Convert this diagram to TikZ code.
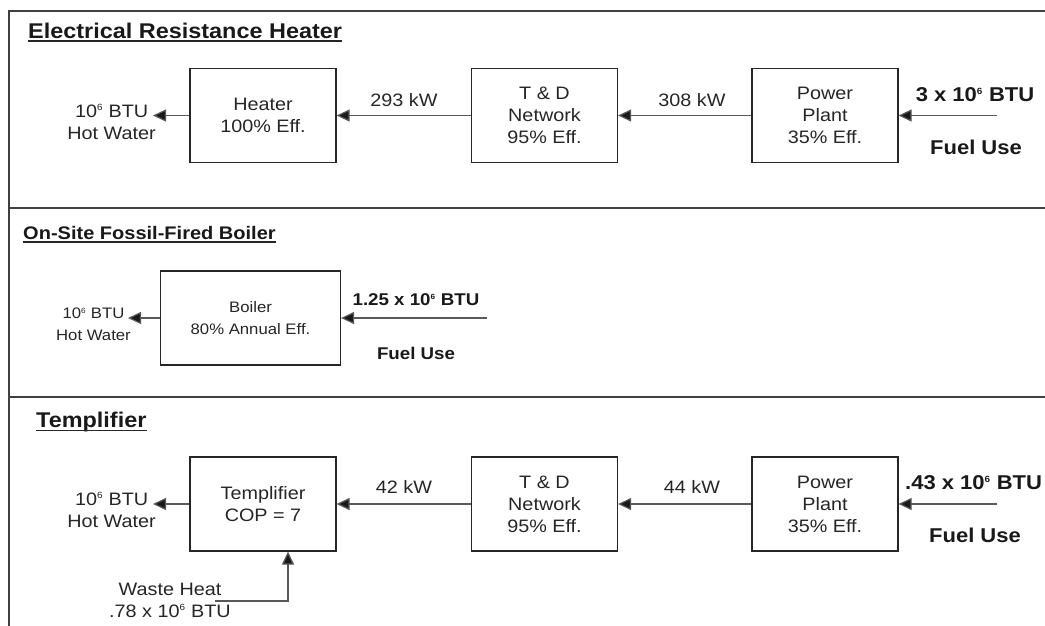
\documentclass[tikz,border=0pt]{standalone}
\usepackage{fontspec}
\setmainfont{Liberation Sans}[FakeStretch=1.1]
\usetikzlibrary{arrows.meta}
\newcommand\fsreg{\fontsize{18}{22}\selectfont}
\newcommand\fssmall{\fontsize{15.2}{21.7}\selectfont}
\newcommand\fsbold{\fontsize{20}{24}\selectfont\bfseries}
\newcommand\fsboldsmall{\fontsize{17}{21}\selectfont\bfseries}
\newcommand\fstitle{\fontsize{21.3}{25}\selectfont\bfseries}
\newcommand\fstitlesmall{\fontsize{18.2}{22}\selectfont\bfseries}
\newcommand\sixsup{\textsuperscript{\fontsize{9}{9}\selectfont 6}}
\newcommand\sixsupsm{\textsuperscript{\fontsize{7.5}{7.5}\selectfont 6}}
\begin{document}
\begin{tikzpicture}[x=1pt,y=-1pt,
  box/.style={draw=black!85, line width=1.2pt, minimum width=146pt, minimum height=94pt,
    inner sep=0pt, align=center, font=\fsreg, text=black!85},
  lbl/.style={font=\fsreg, text=black!85, inner sep=0pt, align=center},
  fuel/.style={font=\fsbold, text=black!90, inner sep=0pt, align=center},
  ttl/.style={text=black!90, inner sep=0pt, anchor=base west},
  uline/.style={draw=black!85, line width=1.6pt},
  arr/.style={draw=black!65, line width=1.2pt, -{Triangle[length=13pt,width=12pt,fill=black!90]}},
  frame/.style={draw=black!75, line width=2pt}]
\useasboundingbox (0,0) rectangle (1045,625);
\fill[white] (0,0) rectangle (1045,625);

% frame
\draw[frame] (1050,11) -- (9,11) -- (9,630);
\draw[frame] (9,208) -- (1050,208);
\draw[frame] (9,397) -- (1050,397);

% ---------------- Section 1
\node[ttl, font=\fstitle] (t1) at (28,38) {Electrical Resistance Heater};
\draw[uline] ([yshift=-3pt]t1.base west) -- ([yshift=-3pt]t1.base east);

\node[box] (heater) at (263,115.5) {Heater\\100\% Eff.};
\node[box] (td1) at (544.5,115.5) {T \& D\\Network\\95\% Eff.};
\node[box] (pp1) at (825,115.5) {Power\\Plant\\35\% Eff.};
\node[lbl, anchor=east] (hw1) at (156,122) {10\sixsup{} BTU\\Hot Water};
\coordinate (o1) at (153,115.5);
\coordinate (f1) at (997,115.5);
\draw[arr] (f1) -- (pp1.east);
\draw[arr] (pp1.west) -- (td1.east);
\draw[arr] (td1.west) -- (heater.east);
\draw[arr] (heater.west) -- (o1);
\node[lbl] (k1) at (404,100) {293 kW};
\node[lbl] (k2) at (692,100) {308 kW};
\node[fuel] (b1) at (975,95) {3 x 10\sixsup{} BTU};
\node[fuel] (fu1) at (976,147) {Fuel Use};

% ---------------- Section 2
\node[ttl, font=\fstitlesmall] (t2) at (23,239.5) {On-Site Fossil-Fired Boiler};
\draw[uline] ([yshift=-2.5pt]t2.base west) -- ([yshift=-2.5pt]t2.base east);

\node[box, font=\fssmall, minimum width=180pt] (boiler) at (250.5,318) {Boiler\\80\% Annual Eff.};
\node[lbl, font=\fssmall, anchor=east] (hw2) at (131,324) {10\sixsupsm{} BTU\\Hot Water};
\coordinate (o2) at (128,318);
\coordinate (f2) at (487,318);
\draw[arr] (f2) -- (boiler.east);
\draw[arr] (boiler.west) -- (o2);
\node[fuel, font=\fsboldsmall] (b2) at (416,300) {1.25 x 10\sixsupsm{} BTU};
\node[fuel, font=\fsboldsmall] (fu2) at (416,353) {Fuel Use};

% ---------------- Section 3
\node[ttl, font=\fstitle] (t3) at (36,427) {Templifier};
\draw[uline] ([yshift=-3.5pt]t3.base west) -- ([yshift=-3.5pt]t3.base east);

\node[box] (templ) at (263,504) {Templifier\\COP = 7};
\node[box] (td3) at (544.5,504) {T \& D\\Network\\95\% Eff.};
\node[box] (pp3) at (825,504) {Power\\Plant\\35\% Eff.};
\node[lbl, anchor=east] (hw3) at (156,510) {10\sixsup{} BTU\\Hot Water};
\coordinate (o3) at (153,504);
\coordinate (f3) at (997,504);
\draw[arr] (f3) -- (pp3.east);
\draw[arr] (pp3.west) -- (td3.east);
\draw[arr] (td3.west) -- (templ.east);
\draw[arr] (templ.west) -- (o3);
\node[lbl] (k3) at (404,487) {42 kW};
\node[lbl] (k4) at (692,487) {44 kW};
\node[fuel, anchor=west] (b3) at (905,483) {.43 x 10\sixsup{} BTU};
\node[fuel] (fu3) at (975,535) {Fuel Use};

\node[lbl] (wh) at (170,600) {Waste Heat\\.78 x 10\sixsup{} BTU};
\coordinate (w0) at (215,601);
\draw[arr] (w0) -| ([xshift=25pt]templ.south);
\end{tikzpicture}
\end{document}
